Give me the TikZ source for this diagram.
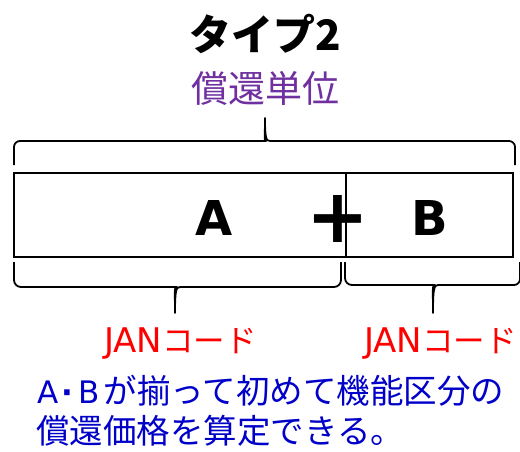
\documentclass[tikz,border=0pt]{standalone}
\usepackage{fontspec}
\setmainfont{Noto Sans CJK JP}
\newfontfamily\dejavu{DejaVu Sans}
\definecolor{purp}{RGB}{112,48,160}
\definecolor{blu}{RGB}{0,0,200}
\definecolor{redlab}{RGB}{255,0,0}
\newcommand\fs[1]{\fontsize{#1}{#1}\selectfont}
\begin{document}
\begin{tikzpicture}[x=1pt,y=-1pt,
  boxst/.style={draw, line width=1.8pt, inner sep=0pt, outer sep=0pt, minimum height=84pt},
  letter/.style={font=\dejavu\bfseries\fs{48}, inner sep=0pt},
  bracest/.style={line width=1.8pt, line join=round},
  redlbl/.style={font=\fs{31.5}, text=redlab, inner sep=0pt, anchor=base west},
  bluelbl/.style={font=\fs{33.5}, text=blu, inner sep=0pt, anchor=base west}]
\useasboundingbox (0,0) rectangle (520,452);
% title and unit
\node[font=\fs{42}\bfseries, inner sep=0pt] (title) at (265,34) {タイプ2};
\node[font=\fs{37}, text=purp, inner sep=0pt] (unit) at (265,88.5) {償還単位};
% boxes
\node[boxst, minimum width=332pt, anchor=north west] (boxA) at (14,173) {};
\node[boxst, minimum width=167pt, anchor=north west] (boxB) at (346,173) {};
\node[letter, anchor=base] (A) at (214,235) {A};
\node[letter, anchor=base] (B) at (429.5,235) {B};
\node[font=\dejavu\bfseries\fs{75}, inner sep=0pt] (plus) at (337.5,219) {+};
% top brace
\draw[bracest] (14,165) [rounded corners=6pt] -- (14,141) -- (260,141) [sharp corners]
  .. controls (264,141) and (265,138) .. (265,118)
  .. controls (265,138) and (266,141) .. (270,141) [rounded corners=6pt]
  -- (515,141) -- (515,165);
% bottom left brace
\draw[bracest] (14,262) [rounded corners=7pt] -- (14,287) -- (170,287) [sharp corners]
  .. controls (174,287) and (175,291) .. (175,313)
  .. controls (175,291) and (176,287) .. (180,287) [rounded corners=7pt]
  -- (341,287) -- (341,262);
% bottom right brace
\draw[bracest] (345,262) [rounded corners=7pt] -- (345,285) -- (428,285) [sharp corners]
  .. controls (432,285) and (433,289) .. (433,313)
  .. controls (433,289) and (434,285) .. (438,285) [rounded corners=6pt]
  -- (520,285) -- (520,262);
% JAN labels
\node[redlbl] (jan1) at (104,352) {{\dejavu\fs{34}JAN}コード};
\node[redlbl] (jan2) at (364,352) {{\dejavu\fs{34}JAN}コード};
% note
\node[bluelbl] (note1) at (37.5,403) {{\dejavu\fs{31}A\hspace{3pt}{\bfseries ·}\hspace{5pt}B}\hspace{4pt}が揃って初めて機能区分の};
\node[bluelbl] (note2) at (36,443) {償還価格を算定できる。};
\end{tikzpicture}
\end{document}
